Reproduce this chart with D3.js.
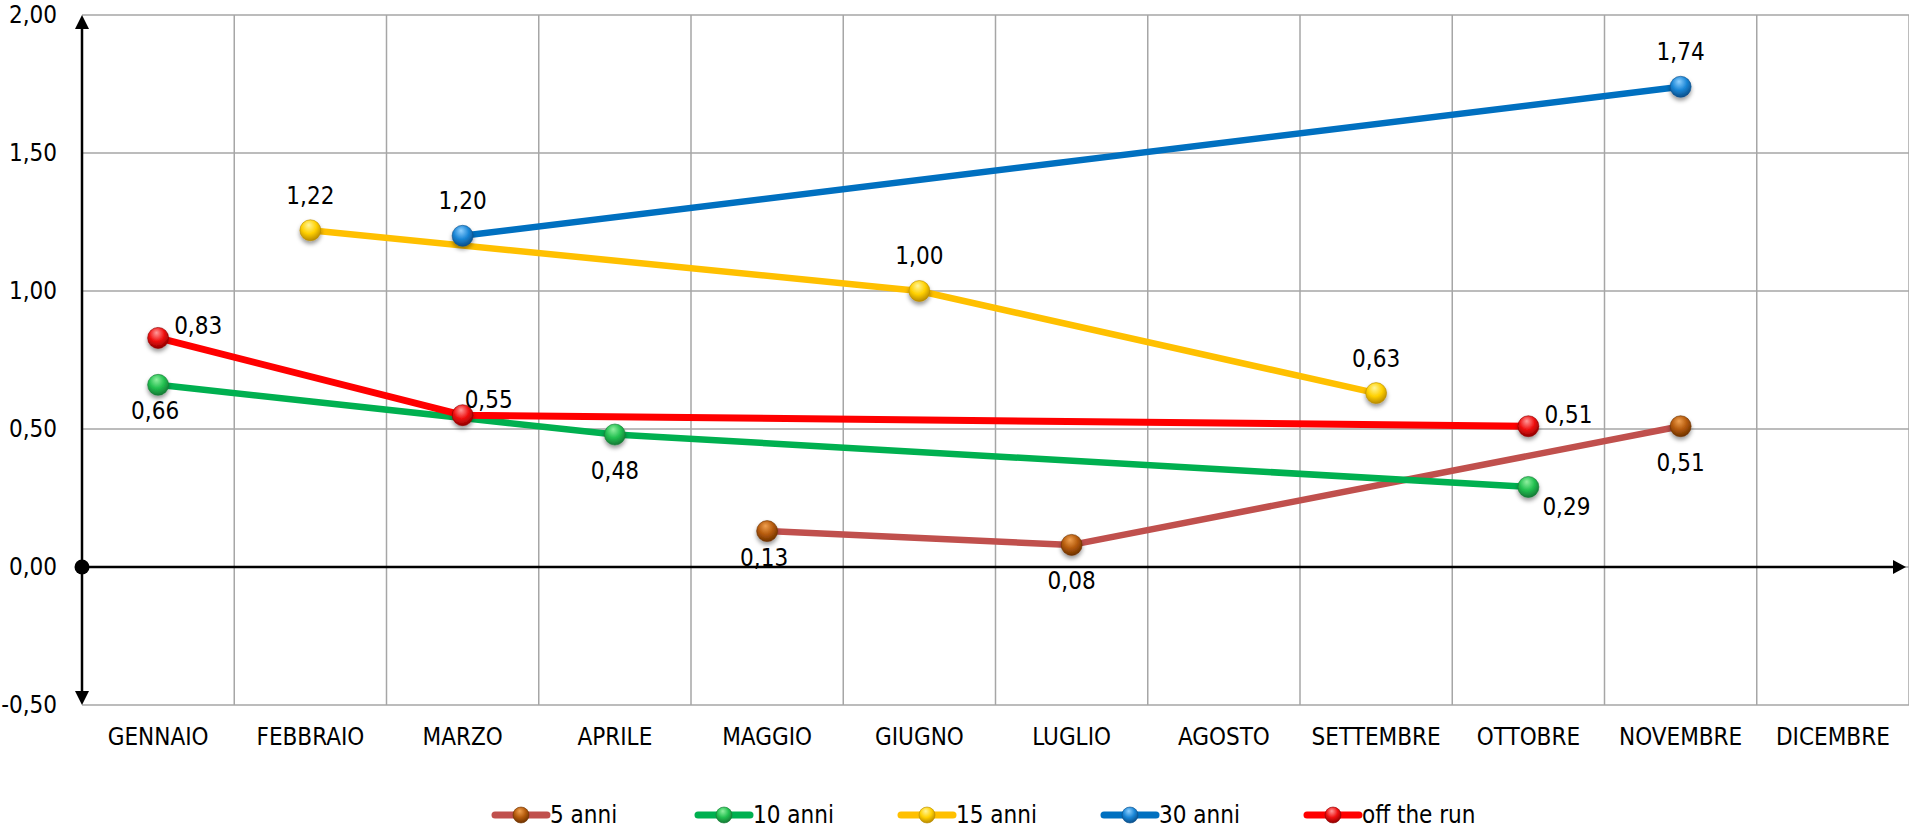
<!DOCTYPE html>
<html>
<head>
<meta charset="utf-8">
<script src="https://cdn.jsdelivr.net/npm/d3@7"></script>
<style>
    body { margin: 0; background: #fff; }
    svg { display: block; }
    text { font-family: "DejaVu Sans Condensed", "Liberation Sans", sans-serif; font-size: 24px; fill: #000; }
</style>
</head>
<body>
<div id="chart"></div>
<script>
// mesi e serie
const months = ["GENNAIO", "FEBBRAIO", "MARZO", "APRILE", "MAGGIO", "GIUGNO",
    "LUGLIO", "AGOSTO", "SETTEMBRE", "OTTOBRE", "NOVEMBRE", "DICEMBRE"];
const anni5 = [null, null, null, null, 0.13, null, 0.08, null, null, null, 0.51, null];
const anni10 = [0.66, null, null, 0.48, null, null, null, null, null, 0.29, null, null];
const anni15 = [null, 1.22, null, null, null, 1.00, null, null, 0.63, null, null, null];
const anni30 = [null, null, 1.20, null, null, null, null, null, null, null, 1.74, null];
const offTheRun = [0.83, null, 0.55, null, null, null, null, null, null, 0.51, null, null];
const seriesNames = ["5 anni", "10 anni", "15 anni", "30 anni", "off the run"];
const yTicks = [-0.5, 0, 0.5, 1, 1.5, 2];

// dove sta l'etichetta di ogni punto
const labelPlace = [
    [null, null, null, null, "belowNear", null, "below", null, null, null, "below", null],
    ["belowNear", null, null, "below", null, null, null, null, null, "rightLow", null, null],
    [null, "above", null, null, null, "above", null, null, "above", null, null, null],
    [null, null, "above", null, null, null, null, null, null, null, "above", null],
    ["right", null, "rightHigh", null, null, null, null, null, null, "right", null, null]
];

let width = 1909,
    height = 830,
    plotLeft = 82,
    plotTop = 15,
    plotBottom = 705;

let lineColors = ["#C0504D", "#00B050", "#FFC000", "#0070C0", "#FF0000"];
let markerColors = [
    ["#f0a050", "#b45a0c", "#6e3200"],
    ["#90f0a0", "#22c050", "#157a35"],
    ["#fff59a", "#ffd000", "#b88a00"],
    ["#8fd0ff", "#1a86d6", "#0a4f8a"],
    ["#ff9a9a", "#f01010", "#900000"]
];
let lineWidths = [6.5, 6.5, 6.5, 6.5, 7];

let offsets = {
    above: { dx: 0, dy: -35, anchor: "middle" },
    below: { dx: 0, dy: 36, anchor: "middle" },
    belowNear: { dx: -3, dy: 26, anchor: "middle" },
    right: { dx: 16, dy: -12, anchor: "start" },
    rightHigh: { dx: 2, dy: -16, anchor: "start" },
    rightLow: { dx: 14, dy: 20, anchor: "start" }
};

let svg = d3.select("#chart")
    .append("svg")
    .attr("width", width)
    .attr("height", height);

let defs = svg.append("defs");

markerColors.forEach(function (c, i) {
    let g = defs.append("radialGradient")
        .attr("id", "ball" + i)
        .attr("cx", "45%").attr("cy", "35%").attr("r", "65%")
        .attr("fx", "42%").attr("fy", "25%");
    g.append("stop").attr("offset", "0%").attr("stop-color", c[0]);
    g.append("stop").attr("offset", "55%").attr("stop-color", c[1]);
    g.append("stop").attr("offset", "100%").attr("stop-color", c[2]);
});

defs.append("filter")
    .attr("id", "shadow")
    .attr("x", "-50%").attr("y", "-50%").attr("width", "200%").attr("height", "220%")
    .append("feDropShadow")
    .attr("dx", 0).attr("dy", 3).attr("stdDeviation", 2)
    .attr("flood-color", "#000").attr("flood-opacity", 0.4);

let x = d3.scaleBand()
    .domain(months)
    .range([plotLeft, width])
    .padding(0);

let y = d3.scaleLinear()
    .domain([-0.5, 2])
    .range([plotBottom, plotTop]);

let cx = function (i) { return x(months[i]) + x.bandwidth() / 2; };
// virgola decimale e trattino normale al posto del segno meno unicode
let fmt = function (v) { return d3.format(".2f")(v).replace(".", ",").replace("\u2212", "-"); };

// griglia
svg.append("g")
    .selectAll("line")
    .data(yTicks)
    .enter()
    .append("line")
    .attr("x1", plotLeft).attr("x2", width)
    .attr("y1", function (d) { return y(d); })
    .attr("y2", function (d) { return y(d); })
    .style("stroke", "#a6a6a6")
    .style("stroke-width", 1.5);

svg.append("g")
    .selectAll("line")
    .data(months)
    .enter()
    .append("line")
    .attr("x1", function (d) { return x(d) + x.bandwidth(); })
    .attr("x2", function (d) { return x(d) + x.bandwidth(); })
    .attr("y1", plotTop).attr("y2", plotBottom)
    .style("stroke", "#a6a6a6")
    .style("stroke-width", 1.5);

// etichette assi
let yAxis = svg.append("g")
    .attr("transform", "translate(" + plotLeft + ",0)")
    .call(d3.axisLeft(y).tickValues(yTicks).tickSize(0).tickPadding(25).tickFormat(fmt));
yAxis.select(".domain").remove();

let xAxis = svg.append("g")
    .attr("transform", "translate(0," + plotBottom + ")")
    .call(d3.axisBottom(x).tickSize(0).tickPadding(23));
xAxis.select(".domain").remove();

yAxis.attr("font-family", null).attr("font-size", null);
xAxis.attr("font-family", null).attr("font-size", null);

// assi neri con frecce
let y0 = y(0);
svg.append("line")
    .attr("x1", plotLeft).attr("x2", width - 14)
    .attr("y1", y0).attr("y2", y0)
    .style("stroke", "#000").style("stroke-width", 2.5);
svg.append("line")
    .attr("x1", plotLeft).attr("x2", plotLeft)
    .attr("y1", y(2) + 12).attr("y2", y(-0.5) - 12)
    .style("stroke", "#000").style("stroke-width", 2.5);

svg.append("path")
    .attr("d", "M" + (width - 3) + "," + y0 + "L" + (width - 16) + "," + (y0 - 7) + "L" + (width - 16) + "," + (y0 + 7) + "Z")
    .style("fill", "#000");
svg.append("path")
    .attr("d", "M" + plotLeft + "," + y(2) + "L" + (plotLeft - 7) + "," + (y(2) + 14) + "L" + (plotLeft + 7) + "," + (y(2) + 14) + "Z")
    .style("fill", "#000");
svg.append("path")
    .attr("d", "M" + plotLeft + "," + y(-0.5) + "L" + (plotLeft - 7) + "," + (y(-0.5) - 14) + "L" + (plotLeft + 7) + "," + (y(-0.5) - 14) + "Z")
    .style("fill", "#000");
svg.append("circle")
    .attr("cx", plotLeft).attr("cy", y0).attr("r", 7.5)
    .style("fill", "#000");

// serie
let allSeries = [anni5, anni10, anni15, anni30, offTheRun];

let line = d3.line()
    .x(function (d) { return cx(d.i); })
    .y(function (d) { return y(d.v); });

allSeries.forEach(function (values, s) {
    let pts = [];
    values.forEach(function (v, i) {
        if (v !== null) pts.push({ i: i, v: v, s: s });
    });

    svg.append("path")
        .datum(pts)
        .attr("d", line)
        .style("fill", "none")
        .style("stroke", lineColors[s])
        .style("stroke-width", lineWidths[s])
        .style("stroke-linejoin", "round");

    svg.selectAll(".m" + s)
        .data(pts)
        .enter()
        .append("circle")
        .attr("class", "m" + s)
        .attr("cx", function (d) { return cx(d.i); })
        .attr("cy", function (d) { return y(d.v); })
        .attr("r", 10.5)
        .style("fill", "url(#ball" + s + ")")
        .style("stroke", markerColors[s][2])
        .style("stroke-opacity", 0.6)
        .style("stroke-width", 1)
        .attr("filter", "url(#shadow)");
});

// etichette dei dati
allSeries.forEach(function (values, s) {
    values.forEach(function (v, i) {
        if (v === null) return;
        let o = offsets[labelPlace[s][i]];
        svg.append("text")
            .attr("x", cx(i) + o.dx)
            .attr("y", y(v) + o.dy)
            .attr("dy", "0.35em")
            .style("text-anchor", o.anchor)
            .text(fmt(v));
    });
});

// legenda
let legend = svg.append("g").attr("transform", "translate(495,815)");
seriesNames.forEach(function (name, s) {
    let g = legend.append("g").attr("transform", "translate(" + (s * 203) + ",0)");
    g.append("line")
        .attr("x1", 0).attr("x2", 52)
        .style("stroke", lineColors[s])
        .style("stroke-width", 7)
        .style("stroke-linecap", "round");
    g.append("circle")
        .attr("cx", 26).attr("r", 8)
        .style("fill", "url(#ball" + s + ")")
        .style("stroke", markerColors[s][2])
        .style("stroke-opacity", 0.6);
    g.append("text")
        .attr("x", 55)
        .attr("dy", "0.35em")
        .text(name);
});
</script>
</body>
</html>
